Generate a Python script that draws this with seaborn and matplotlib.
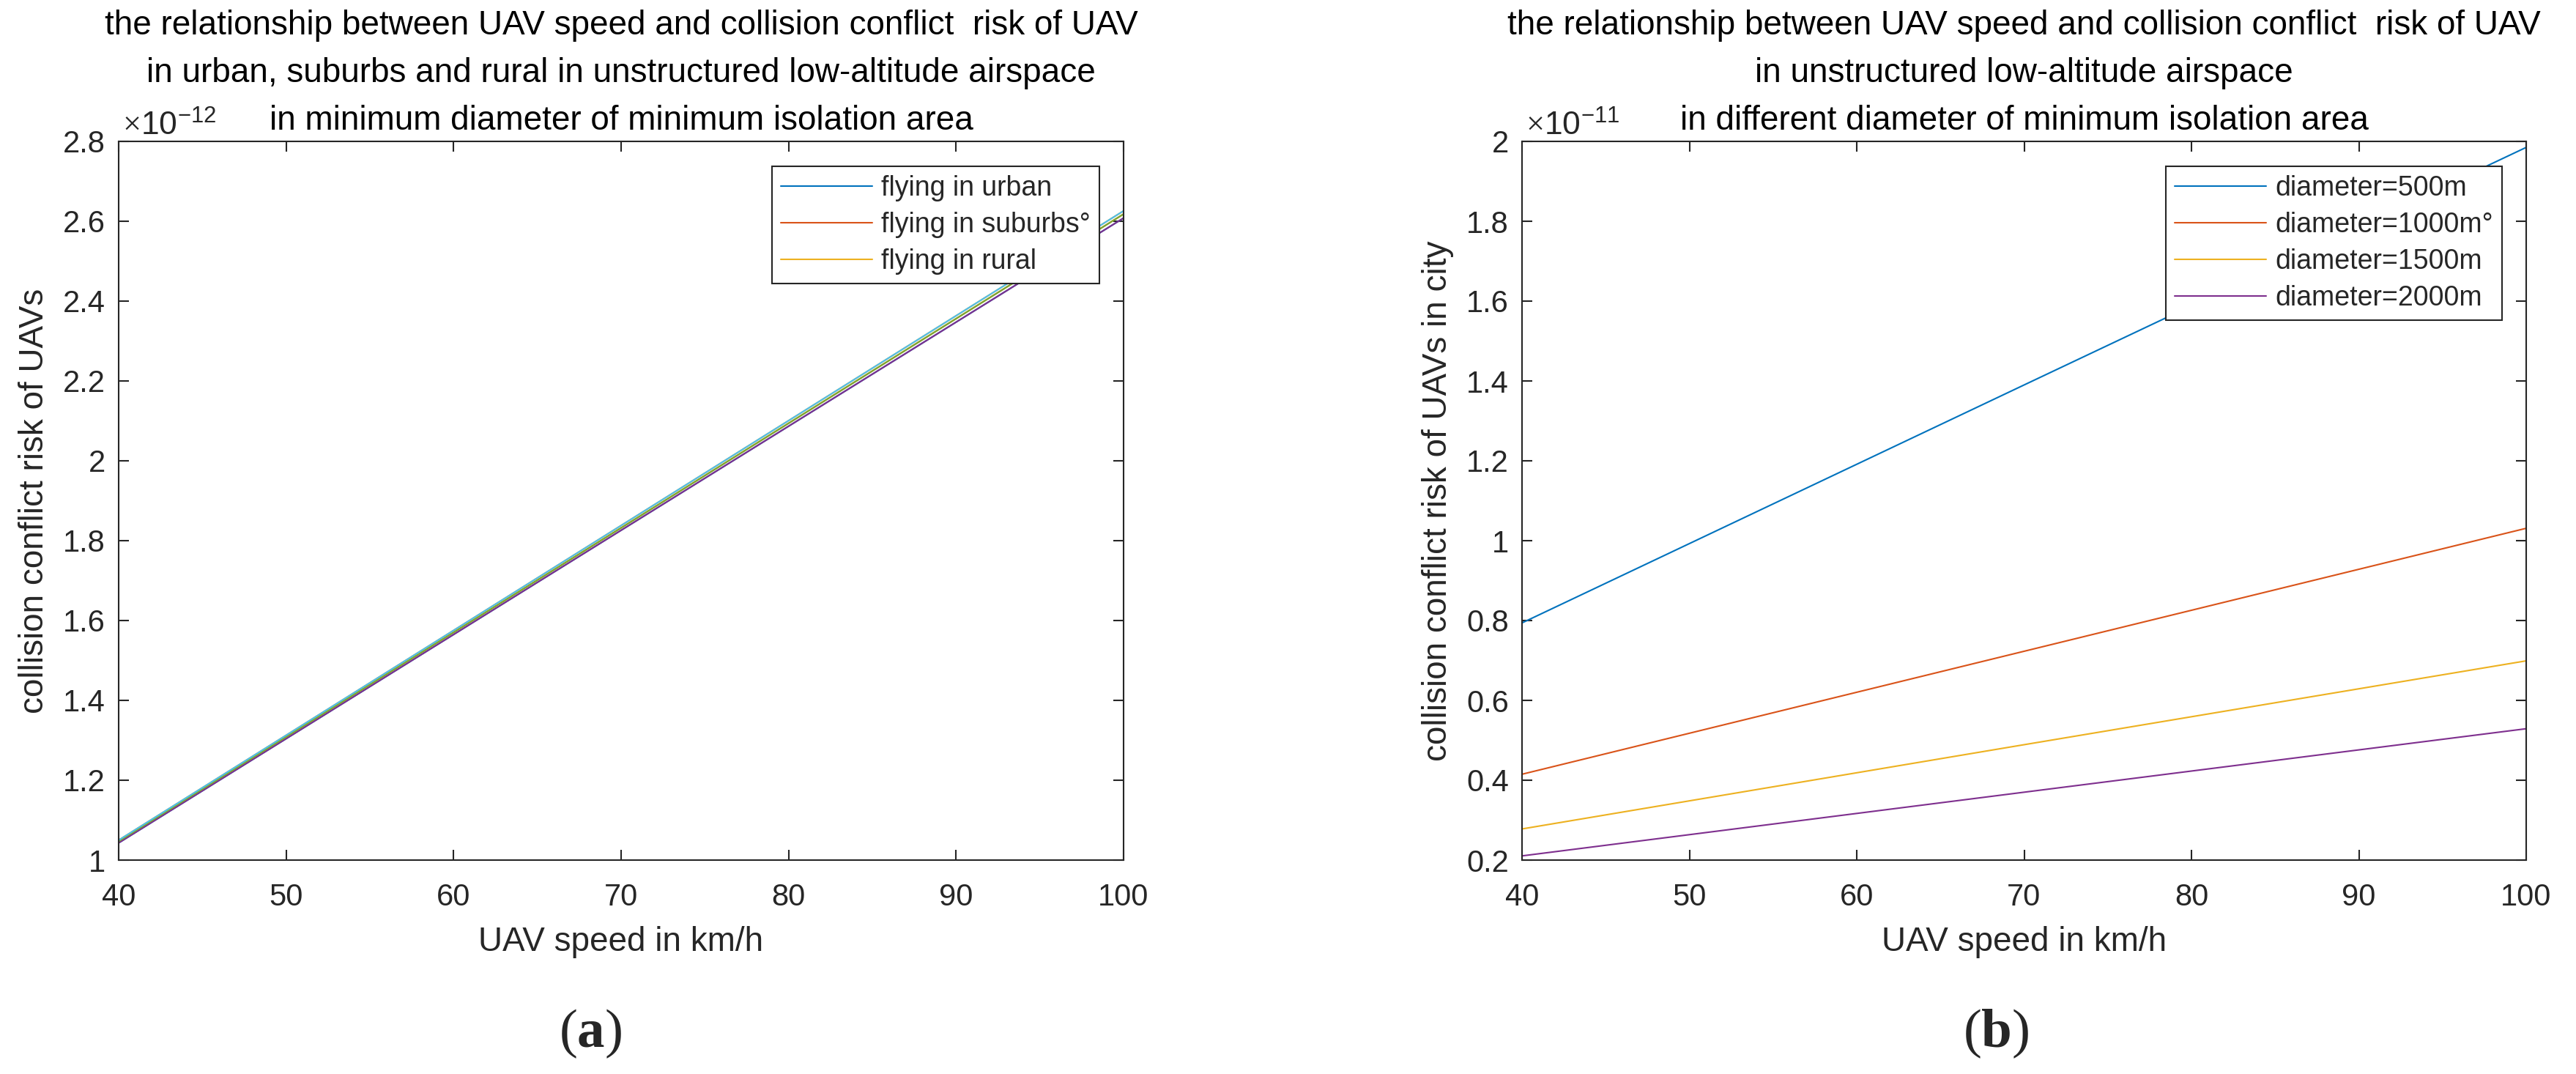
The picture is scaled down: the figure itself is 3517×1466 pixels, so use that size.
import seaborn as sns
import matplotlib.pyplot as plt
import pandas as pd
from matplotlib.ticker import FuncFormatter, MultipleLocator

# --- data ---
speed = [40, 70, 100]

# (a) risk in urban / suburbs / rural (values in 1e-12)
risk_urban = [1.043, 1.826, 2.608]
risk_suburbs = [1.047, 1.832, 2.618]
risk_rural = [1.050, 1.838, 2.626]
area_labels = ["flying in urban", "flying in suburbs°", "flying in rural"]

# (b) risk in city for different diameters (values in 1e-11)
risk_d500 = [0.794, 1.390, 1.985]
risk_d1000 = [0.415, 0.723, 1.031]
risk_d1500 = [0.278, 0.489, 0.699]
risk_d2000 = [0.2105, 0.370, 0.529]
diam_labels = ["diameter=500m", "diameter=1000m°", "diameter=1500m", "diameter=2000m"]

# matlab default colours
ml_colors = ["#0072BD", "#D95319", "#EDB120", "#7E2F8E", "#77AC30", "#4DBEEE"]
axis_col = "#262626"

sns.set_style("ticks")
plt.rcParams['font.family'] = ['Liberation Sans', 'DejaVu Sans']
plt.rcParams['mathtext.fontset'] = 'custom'
plt.rcParams['mathtext.rm'] = 'Liberation Serif'
plt.rcParams['mathtext.bf'] = 'Liberation Serif:bold'
plt.rcParams['mathtext.sf'] = 'Liberation Sans'

W, H = 3517, 1466
fig = plt.figure(figsize=(W / 200, H / 200), dpi=200)
ax_a = fig.add_axes([162 / W, 1 - 1174 / H, 1372 / W, 981 / H])
ax_b = fig.add_axes([2078 / W, 1 - 1174 / H, 1371 / W, 981 / H])

# long tables for seaborn
df_a = pd.DataFrame({
    "speed": speed * 3,
    "risk": [v * 1e-12 for v in risk_urban + risk_suburbs + risk_rural],
    "area": sum([[lab] * len(speed) for lab in area_labels], []),
})
df_b = pd.DataFrame({
    "speed": speed * 4,
    "risk": [v * 1e-11 for v in risk_d500 + risk_d1000 + risk_d1500 + risk_d2000],
    "diam": sum([[lab] * len(speed) for lab in diam_labels], []),
})

lw = 0.75
# first pass gives the legend colours, second pass (matlab colour order 4-6) lies on top
sns.lineplot(data=df_a, x="speed", y="risk", hue="area", hue_order=area_labels,
             palette=ml_colors[:3], linewidth=lw, legend=False, ax=ax_a)
sns.lineplot(data=df_a, x="speed", y="risk", hue="area", hue_order=area_labels,
             palette=ml_colors[3:6], linewidth=lw, legend=False, ax=ax_a)
sns.lineplot(data=df_b, x="speed", y="risk", hue="diam", hue_order=diam_labels,
             palette=ml_colors[:4], linewidth=lw, legend=False, ax=ax_b)

titles = [
    ["the relationship between UAV speed and collision conflict  risk of UAV",
     "in urban, suburbs and rural in unstructured low-altitude airspace",
     "in minimum diameter of minimum isolation area"],
    ["the relationship between UAV speed and collision conflict  risk of UAV",
     "in unstructured low-altitude airspace",
     "in different diameter of minimum isolation area"],
]
ylabels = ["collision conflict risk of UAVs", "collision conflict risk of UAVs in city"]
scales = [1e-12, 1e-11]
exps = ["-12", "-11"]
ylims = [(1.0, 2.8), (0.2, 2.0)]
legend_labels = [area_labels, diam_labels]

for ax, title, ylab, sc, ex, yl, labs in zip([ax_a, ax_b], titles, ylabels, scales,
                                             exps, ylims, legend_labels):
    ax.set_xlim(40, 100)
    ax.set_ylim(yl[0] * sc, yl[1] * sc)
    ax.xaxis.set_major_locator(MultipleLocator(10))
    ax.yaxis.set_major_locator(MultipleLocator(0.2 * sc))
    ax.yaxis.set_major_formatter(FuncFormatter(lambda v, pos, s=sc: f"{round(v / s, 6):g}"))
    ax.tick_params(axis='both', direction='in', length=5, width=0.75, colors=axis_col,
                   labelsize=15, top=True, right=True)
    ax.tick_params(axis='x', pad=11)
    ax.tick_params(axis='y', pad=6.5)
    for sp in ax.spines.values():
        sp.set_visible(True)
        sp.set_color(axis_col)
        sp.set_linewidth(0.75)
    # three title lines, bottom line first
    for k, line in enumerate(reversed(title)):
        ax.annotate(line, xy=(0.5, 1), xycoords='axes fraction',
                    xytext=(0, 5.8 + 23.4 * k), textcoords='offset points',
                    ha='center', va='baseline', fontsize=16.5, color='black')
    ax.set_xlabel("UAV speed in km/h", fontsize=16.5, color=axis_col, labelpad=7)
    ax.set_ylabel(ylab, fontsize=16.5, color=axis_col, labelpad=6)
    ax.text(0.004, 1.008, r"$\times\mathsf{10^{" + ex + "}}$", transform=ax.transAxes,
            ha='left', va='baseline', fontsize=16, color=axis_col)
    n = len(labs)
    leg = ax.legend(handles=ax.lines[:n], labels=labs, loc='upper right',
                    bbox_to_anchor=(0.976, 0.9653), borderaxespad=0, fontsize=13.5,
                    frameon=True, fancybox=False, edgecolor=axis_col, framealpha=1,
                    handlelength=3.35, handletextpad=0.32, labelspacing=0.37,
                    borderpad=0.32)
    leg.get_frame().set_linewidth(0.75)

# sub-figure captions
fig.text(806 / W, 1 - 1411 / H, r"$(\mathbf{a})$", ha='center', va='center', fontsize=27)
fig.text(2725 / W, 1 - 1411 / H, r"$(\mathbf{b})$", ha='center', va='center', fontsize=27)

fig.savefig("out.png", dpi=200)
